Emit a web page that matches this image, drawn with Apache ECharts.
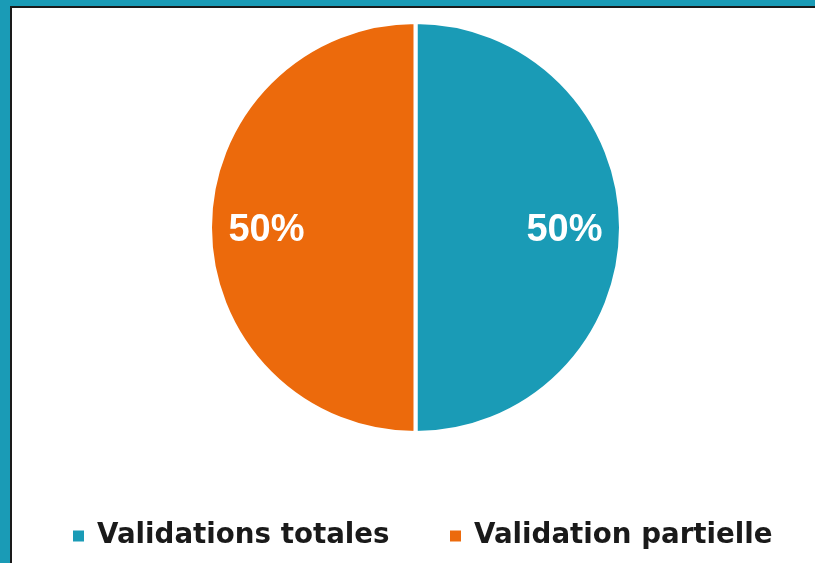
<!DOCTYPE html>
<html><head><meta charset="utf-8">
<script src="https://cdn.jsdelivr.net/npm/echarts@6/dist/echarts.min.js"></script>
<style>html,body{margin:0;padding:0;background:#fff}#c{width:815px;height:563px}</style>
</head><body><div id="c"></div>
<script>
const categories = ['Validations totales', 'Validation partielle'];
const values = [50, 50];
const colors = ['#1a9bb6', '#ec6a0c'];

const chart = echarts.init(document.getElementById('c'), null, {renderer: 'canvas'});
const data = categories.map((n, i) => ({name: n, value: values[i], itemStyle: {color: colors[i]}}));
chart.setOption({
  animation: false,
  backgroundColor: '#1a9bb6',
  graphic: [
    {type: 'rect', z: -10, silent: true, shape: {x: 10, y: 6, width: 900, height: 700}, style: {fill: '#1a1a1a'}},
    {type: 'rect', z: -9, silent: true, shape: {x: 12, y: 8, width: 900, height: 700}, style: {fill: '#ffffff'}}
  ],
  legend: {
    data: categories,
    left: 71, top: 521, padding: 0,
    icon: 'rect', itemWidth: 13, itemHeight: 13, itemGap: 58,
    selectedMode: false,
    textStyle: {fontFamily: 'DejaVu Sans', fontWeight: 'bold', fontSize: 27.7, color: '#1a1a1a', lineHeight: 30, padding: [0, 0, 0, 7], width: 293, overflow: 'none'}
  },
  series: [
    {
      type: 'pie', center: [415.5, 227.5], radius: [0, 205.5], startAngle: 90,
      data: data, label: {show: false}, labelLine: {show: false},
      itemStyle: {borderColor: '#ffffff', borderWidth: 4},
      emphasis: {disabled: true}, silent: true
    },
    {
      type: 'pie', center: [415.5, 231], radius: [98, 194], startAngle: 90,
      data: data.map(d => ({name: d.name, value: d.value, itemStyle: {color: 'rgba(0,0,0,0)'}})),
      label: {show: true, position: 'inside', formatter: p => Math.round(p.percent) + '%', color: '#ffffff', fontFamily: 'Liberation Sans', fontWeight: 'bold', fontSize: 38},
      labelLine: {show: false}, emphasis: {disabled: true}, silent: true, legendHoverLink: false
    }
  ]
});
</script></body></html>
